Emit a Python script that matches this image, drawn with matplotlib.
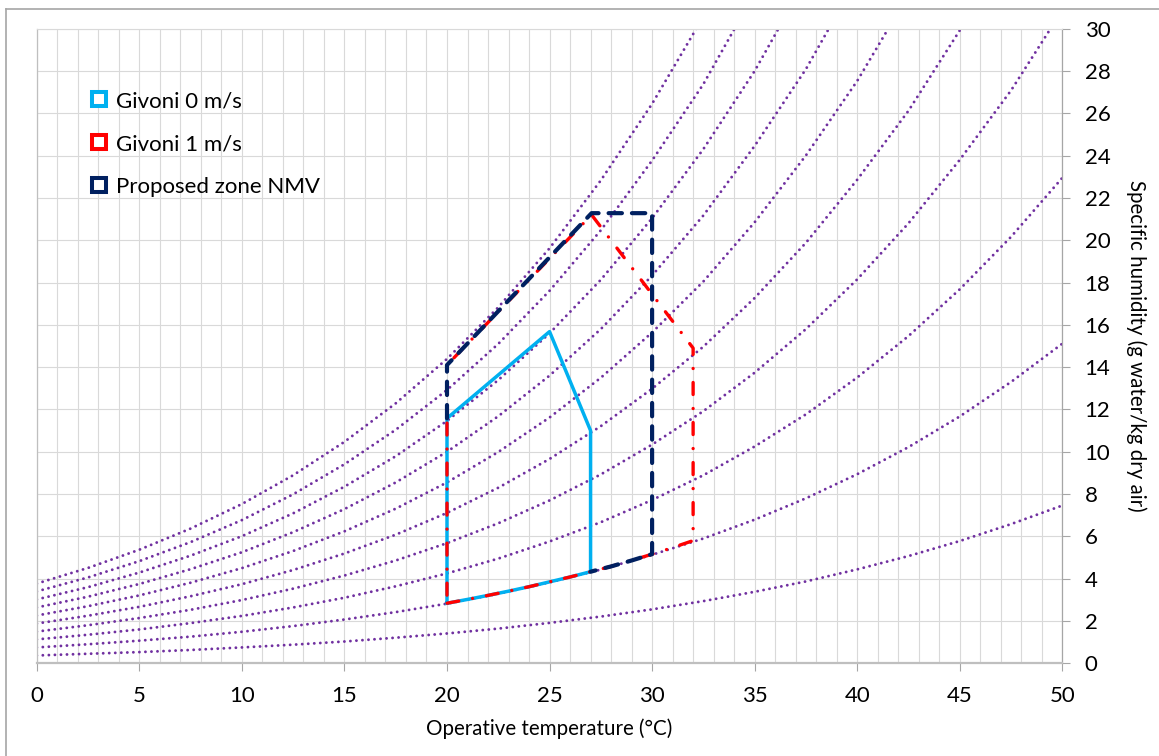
import matplotlib
matplotlib.use('Agg')
import matplotlib.pyplot as plt
from matplotlib.lines import Line2D
from matplotlib.ticker import MultipleLocator

plt.rcParams['font.family'] = ['Lato', 'DejaVu Sans']

# ---- data ----
temps = [0, 2.5, 5, 7.5, 10, 12.5, 15, 17.5, 20, 22.5, 25, 27.5, 30,
         32.5, 35, 37.5, 40, 42.5, 45, 47.5, 50]

rh_10 = [0.37, 0.45, 0.53, 0.63, 0.75, 0.88, 1.03, 1.21, 1.41, 1.64, 1.91,
         2.21, 2.55, 2.94, 3.38, 3.87, 4.44, 5.07, 5.78, 6.58, 7.46]
rh_20 = [0.75, 0.90, 1.07, 1.26, 1.49, 1.76, 2.07, 2.42, 2.82, 3.29, 3.83,
         4.43, 5.13, 5.90, 6.79, 7.80, 8.94, 10.22, 11.67, 13.30, 15.11]
rh_30 = [1.13, 1.35, 1.60, 1.90, 2.24, 2.64, 3.10, 3.64, 4.25, 4.95, 5.76,
         6.67, 7.72, 8.89, 10.25, 11.77, 13.51, 15.47, 17.68, 20.16, 22.95]
rh_40 = [1.50, 1.80, 2.14, 2.53, 2.99, 3.53, 4.15, 4.86, 5.68, 6.62, 7.70,
         8.93, 10.34, 11.92, 13.74, 15.80, 18.15, 20.80, 23.80, 27.08, 30.87]
rh_50 = [1.88, 2.25, 2.67, 3.17, 3.74, 4.41, 5.19, 6.08, 7.11, 8.30, 9.66,
         11.21, 12.98, 14.97, 17.27, 19.88, 22.86, 26.12, 29.92, 34.23]
rh_60 = [2.26, 2.70, 3.21, 3.81, 4.50, 5.31, 6.24, 7.31, 8.55, 9.99, 11.62,
         13.50, 15.64, 18.05, 20.85, 24.01, 27.53, 31.61]
rh_70 = [2.64, 3.15, 3.75, 4.45, 5.25, 6.20, 7.29, 8.55, 10.00, 11.68, 13.60,
         15.80, 18.33, 21.17, 24.46, 28.09, 32.37]
rh_80 = [3.02, 3.60, 4.29, 5.09, 6.01, 7.09, 8.35, 9.79, 11.46, 13.39, 15.60,
         18.13, 21.04, 24.31, 28.00, 32.31]
rh_90 = [3.40, 4.06, 4.83, 5.73, 6.77, 7.99, 9.41, 11.04, 12.92, 15.10, 17.61,
         20.47, 23.77, 27.38, 31.69]
rh_100 = [3.77, 4.51, 5.37, 6.37, 7.53, 8.89, 10.47, 12.29, 14.39, 16.83,
          19.62, 22.83, 26.45, 30.57]

givoni0_t = [20, 20, 25, 27, 27, 26, 25, 24, 23, 22, 21, 20]
givoni0_w = [2.84, 11.58, 15.68, 11.0, 4.33, 4.08, 3.85, 3.62, 3.41, 3.21, 3.02, 2.84]

givoni1_t = [20, 21, 22, 23, 24, 25, 26, 27, 28, 29, 30, 31, 32, 32, 27.05, 20, 20]
givoni1_w = [2.84, 3.02, 3.21, 3.41, 3.62, 3.85, 4.08, 4.33, 4.58, 4.86, 5.16,
             5.47, 5.80, 14.9, 21.2, 14.1, 2.84]

nmv_t = [20, 20, 27.05, 30, 30, 29, 28, 27]
nmv_w = [11.58, 14.1, 21.28, 21.28, 5.16, 4.86, 4.58, 4.33]

series_labels = ['Givoni 0 m/s', 'Givoni 1 m/s', 'Proposed zone NMV']
x_label = 'Operative temperature (°C)'
y_label = 'Specific humidity (g water/kg dry air)'

# ---- styling ----
W, H = 1159, 756
fig = plt.figure(figsize=(W / 100, H / 100), dpi=100)
x0, x1, y0, y1 = 36.8, 1062.3, 28.7, 663.3
ax = fig.add_axes([x0 / W, 1 - y1 / H, (x1 - x0) / W, (y1 - y0) / H])

c_cyan = '#00B0F0'
c_red = '#FF0000'
c_navy = '#002060'
c_purple = '#7030A0'
c_grid = '#D9D9D9'

for vals in [rh_10, rh_20, rh_30, rh_40, rh_50, rh_60, rh_70, rh_80, rh_90, rh_100]:
    ax.plot(temps[:len(vals)], vals, color=c_purple, lw=2.1,
            ls=(0, (0.01, 2.06)), dash_capstyle='round', zorder=2)

ax.plot(givoni0_t, givoni0_w, color=c_cyan, lw=2.5, solid_joinstyle='round', zorder=3)
ax.plot(givoni1_t, givoni1_w, color=c_red, lw=2.4,
        ls=(0, (3.6, 4.2, 0.01, 4.2)), dash_capstyle='round', zorder=4)
ax.plot(nmv_t, nmv_w, color=c_navy, lw=3.0,
        ls=(0, (3.2, 2.4)), dash_capstyle='round', zorder=5)

ax.set_xlim(0, 50)
ax.set_ylim(0, 30)
ax.xaxis.set_major_locator(MultipleLocator(5))
ax.xaxis.set_minor_locator(MultipleLocator(1))
ax.yaxis.set_major_locator(MultipleLocator(2))
ax.grid(which='both', axis='x', color=c_grid, lw=0.8, zorder=0)
ax.grid(which='major', axis='y', color=c_grid, lw=0.8, zorder=0)
ax.set_axisbelow(True)

ax.yaxis.tick_right()
ax.yaxis.set_label_position('right')
ax.tick_params(axis='x', which='major', direction='out', length=6, width=0.8,
               color='#A6A6A6', labelsize=16, pad=10)
ax.tick_params(axis='x', which='minor', length=0)
ax.tick_params(axis='y', which='major', direction='out', length=6, width=0.8,
               color='#A6A6A6', labelsize=16, pad=10, right=True, left=False)

ax.spines['bottom'].set_color('#BFBFBF')
ax.spines['bottom'].set_linewidth(1.6)
ax.spines['right'].set_color('#A6A6A6')
ax.spines['right'].set_linewidth(0.9)
ax.spines['left'].set_color('#BFBFBF')
ax.spines['left'].set_linewidth(0.9)
ax.spines['top'].set_color(c_grid)
ax.spines['top'].set_linewidth(0.8)

ax.set_xlabel(x_label, fontsize=14.8, labelpad=9)
ax.set_ylabel(y_label, fontsize=14.8, rotation=-90, labelpad=11, va='bottom')

handles = [Line2D([], [], ls='none', marker='s', ms=9.8, mfc='white', mec=c, mew=2.9)
           for c in (c_cyan, c_red, c_navy)]
ax.legend(handles, series_labels, loc='upper left',
          bbox_to_anchor=((88 - x0) / (x1 - x0), 1 - (91 - y0) / (y1 - y0)),
          frameon=False, fontsize=16, borderpad=0, borderaxespad=0,
          handlelength=1.0, handletextpad=0.25, labelspacing=1.04)

# chart-area border (top and left edges visible)
fig.add_artist(Line2D([6 / W, 6 / W], [0, 1 - 9 / H], color='#A6A6A6', lw=1.2,
                      transform=fig.transFigure))
fig.add_artist(Line2D([6 / W, 1], [1 - 9 / H, 1 - 9 / H], color='#A6A6A6', lw=1.2,
                      transform=fig.transFigure))

fig.savefig('out.png', dpi=100)
